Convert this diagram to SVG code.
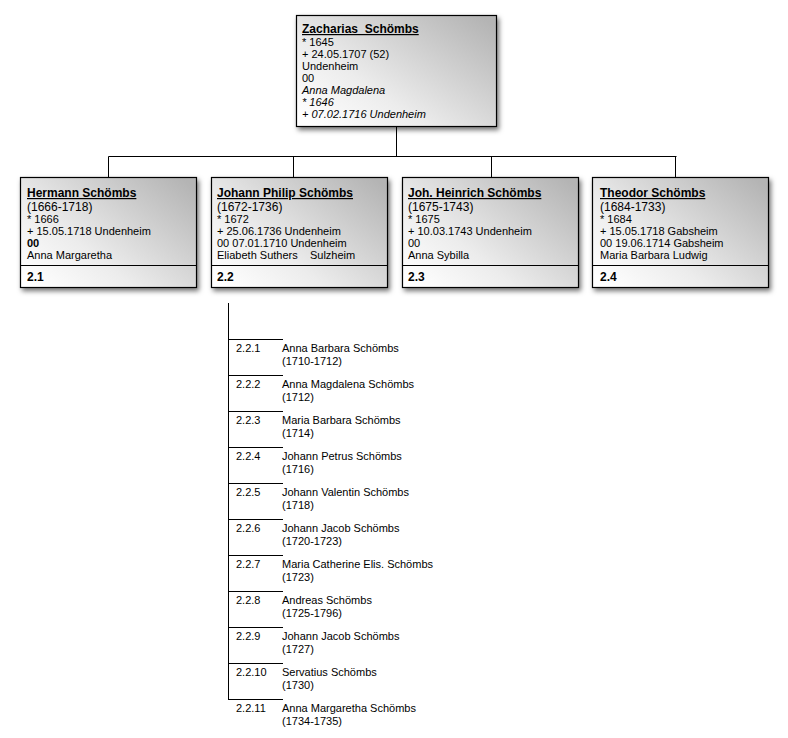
<svg xmlns="http://www.w3.org/2000/svg" width="788" height="738" viewBox="0 0 788 738">
<style>
text{font-family:"Liberation Sans",Arial,sans-serif;fill:#000}
.nm{font-size:12px;font-weight:bold;text-decoration:underline;white-space:pre}
.yr{font-size:12px}
.t{font-size:11px}
.i{font-size:11px;font-style:italic}
.b{font-weight:bold}
.id{font-size:12px;font-weight:bold}
.box{fill:url(#g);stroke:#000;stroke-width:1.2;filter:url(#sh)}
.ln{stroke:#000;stroke-width:1;fill:none}
</style>
<defs>
<linearGradient id="g" x1="0" y1="0.9" x2="1" y2="0.1">
<stop offset="0" stop-color="#ffffff"/>
<stop offset="0.35" stop-color="#ececec"/>
<stop offset="1" stop-color="#b4b4b4"/>
</linearGradient>
<filter id="sh" x="-10%" y="-10%" width="125%" height="130%">
<feDropShadow dx="2" dy="3" stdDeviation="2.5" flood-color="#000" flood-opacity="0.55"/>
</filter>
</defs>
<g id="connectors">
<path class="ln" d="M396.5 127V156.5M108.5 156.5H676.5M108.5 156.5V177M293.5 156.5V177M491.5 156.5V177M675.5 156.5V177"/>
<path class="ln" d="M228.5 303V699"/>
<path class="ln" d="M228 339.5H283M228 375.5H283M228 411.5H283M228 447.5H283M228 483.5H283M228 519.5H283M228 555.5H283M228 591.5H283M228 627.5H283M228 663.5H283M228 699.5H283"/>
</g>
<g id="n1">
<rect class="box" x="296.5" y="15.5" width="200" height="111"/>
<text class="nm" x="302" y="33">Zacharias  Schömbs</text>
<text class="t" x="302" y="46">* 1645</text>
<text class="t" x="302" y="58">+ 24.05.1707 (52)</text>
<text class="t" x="302" y="70">Undenheim</text>
<text class="t" x="302" y="82">00</text>
<text class="i" x="302" y="94">Anna Magdalena</text>
<text class="i" x="302" y="106">* 1646</text>
<text class="i" x="302" y="118">+ 07.02.1716 Undenheim</text>
</g>
<g id="n2_1">
<rect class="box" x="20.5" y="177.5" width="176" height="110"/>
<line class="ln" x1="20.5" y1="265.5" x2="196.5" y2="265.5"/>
<text class="nm" x="27" y="197">Hermann Schömbs</text>
<text class="yr" x="27" y="211">(1666-1718)</text>
<text class="t" x="27" y="223">* 1666</text>
<text class="t" x="27" y="235">+ 15.05.1718 Undenheim</text>
<text class="t b" x="27" y="247">00</text>
<text class="t" x="27" y="259">Anna Margaretha</text>
<text class="id" x="27" y="281">2.1</text>
</g>
<g id="n2_2">
<rect class="box" x="211.5" y="177.5" width="176" height="110"/>
<line class="ln" x1="211.5" y1="265.5" x2="387.5" y2="265.5"/>
<text class="nm" x="217" y="197">Johann Philip Schömbs</text>
<text class="yr" x="217" y="211">(1672-1736)</text>
<text class="t" x="217" y="223">* 1672</text>
<text class="t" x="217" y="235">+ 25.06.1736 Undenheim</text>
<text class="t" x="217" y="247">00 07.01.1710 Undenheim</text>
<text class="t" x="217" y="259" style="white-space:pre">Eliabeth Suthers    Sulzheim</text>
<text class="id" x="217" y="281">2.2</text>
</g>
<g id="n2_3">
<rect class="box" x="402.5" y="177.5" width="176" height="110"/>
<line class="ln" x1="402.5" y1="265.5" x2="578.5" y2="265.5"/>
<text class="nm" x="408" y="197">Joh. Heinrich Schömbs</text>
<text class="yr" x="408" y="211">(1675-1743)</text>
<text class="t" x="408" y="223">* 1675</text>
<text class="t" x="408" y="235">+ 10.03.1743 Undenheim</text>
<text class="t" x="408" y="247">00</text>
<text class="t" x="408" y="259">Anna Sybilla</text>
<text class="id" x="408" y="281">2.3</text>
</g>
<g id="n2_4">
<rect class="box" x="592.5" y="177.5" width="176" height="110"/>
<line class="ln" x1="592.5" y1="265.5" x2="768.5" y2="265.5"/>
<text class="nm" x="600" y="197">Theodor Schömbs</text>
<text class="yr" x="600" y="211">(1684-1733)</text>
<text class="t" x="600" y="223">* 1684</text>
<text class="t" x="600" y="235">+ 15.05.1718 Gabsheim</text>
<text class="t" x="600" y="247">00 19.06.1714 Gabsheim</text>
<text class="t" x="600" y="259">Maria Barbara Ludwig</text>
<text class="id" x="600" y="281">2.4</text>
</g>
<g id="c1"><text class="t" x="236" y="352">2.2.1</text><text class="t" x="282" y="352">Anna Barbara Schömbs</text><text class="t" x="282" y="365">(1710-1712)</text></g>
<g id="c2"><text class="t" x="236" y="388">2.2.2</text><text class="t" x="282" y="388">Anna Magdalena Schömbs</text><text class="t" x="282" y="401">(1712)</text></g>
<g id="c3"><text class="t" x="236" y="424">2.2.3</text><text class="t" x="282" y="424">Maria Barbara Schömbs</text><text class="t" x="282" y="437">(1714)</text></g>
<g id="c4"><text class="t" x="236" y="460">2.2.4</text><text class="t" x="282" y="460">Johann Petrus Schömbs</text><text class="t" x="282" y="473">(1716)</text></g>
<g id="c5"><text class="t" x="236" y="496">2.2.5</text><text class="t" x="282" y="496">Johann Valentin Schömbs</text><text class="t" x="282" y="509">(1718)</text></g>
<g id="c6"><text class="t" x="236" y="532">2.2.6</text><text class="t" x="282" y="532">Johann Jacob Schömbs</text><text class="t" x="282" y="545">(1720-1723)</text></g>
<g id="c7"><text class="t" x="236" y="568">2.2.7</text><text class="t" x="282" y="568">Maria Catherine Elis. Schömbs</text><text class="t" x="282" y="581">(1723)</text></g>
<g id="c8"><text class="t" x="236" y="604">2.2.8</text><text class="t" x="282" y="604">Andreas Schömbs</text><text class="t" x="282" y="617">(1725-1796)</text></g>
<g id="c9"><text class="t" x="236" y="640">2.2.9</text><text class="t" x="282" y="640">Johann Jacob Schömbs</text><text class="t" x="282" y="653">(1727)</text></g>
<g id="c10"><text class="t" x="236" y="676">2.2.10</text><text class="t" x="282" y="676">Servatius Schömbs</text><text class="t" x="282" y="689">(1730)</text></g>
<g id="c11"><text class="t" x="236" y="712">2.2.11</text><text class="t" x="282" y="712">Anna Margaretha Schömbs</text><text class="t" x="282" y="725">(1734-1735)</text></g>
</svg>
